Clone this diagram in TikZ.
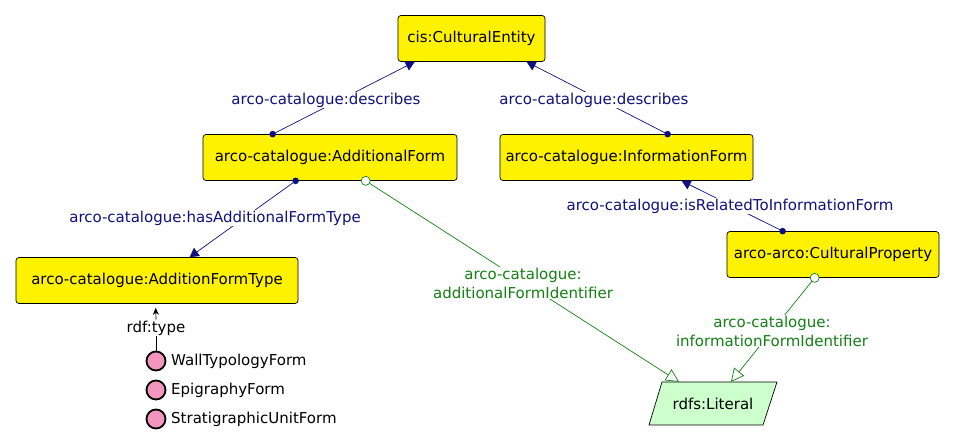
\documentclass[tikz,border=0pt]{standalone}
\usepackage{fontspec}
\setmainfont{DejaVu Sans}
\usetikzlibrary{arrows.meta,calc}
\definecolor{navyc}{RGB}{16,16,128}
\definecolor{greenc}{RGB}{20,128,20}
\definecolor{litfill}{RGB}{204,255,204}
\definecolor{pinkc}{RGB}{242,150,192}
\begin{document}
\begin{tikzpicture}[x=1pt,y=-1pt,font=\fontsize{15}{18}\selectfont,
  cls/.style={draw=black,fill=yellow,rounded corners=3pt,minimum height=46pt,line width=0.7pt,inner sep=0pt},
  navylab/.style={text=navyc,fill=white,inner sep=1pt},
  greenlab/.style={text=greenc,fill=white,inner sep=1pt,align=center,font=\fontsize{15}{19}\selectfont},
  navyedge/.style={draw=navyc,line width=0.7pt,-{Triangle[length=9pt,width=10pt]}},
  greenedge/.style={draw=greenc,line width=0.7pt,-{Triangle[open,length=13pt,width=13pt,fill=white]}},
  inst/.style={circle,draw=black,fill=pinkc,line width=1.8pt,minimum size=19pt,inner sep=0pt},
  instlab/.style={anchor=west,inner sep=0pt}
]
\useasboundingbox (0,0) rectangle (954,446);

% class boxes
\node[cls,minimum width=147pt] (ce) at (471.5,38.5) {cis:CulturalEntity};
\node[cls,minimum width=254pt] (af) at (330,157.5) {arco-catalogue:AdditionalForm};
\node[cls,minimum width=253pt] (if) at (626.5,157.5) {arco-catalogue:InformationForm};
\node[cls,minimum width=282pt] (aft) at (157,280.5) {arco-catalogue:AdditionFormType};
\node[cls,minimum width=212pt] (cp) at (833,254.5) {arco-arco:CulturalProperty};

% literal
\fill[litfill] (662,382) -- (777,382) -- (763,425) -- (649,425) -- cycle;
\draw[line width=0.7pt] (662,382) -- (777,382) -- (763,425) -- (649,425) -- cycle;
\node[minimum width=115pt,minimum height=43pt,inner sep=0pt] (lit) at (713,403.5) {rdfs:Literal};

% endpoints
\coordinate (e1s) at ($(af.north west)+(70,0)$);
\coordinate (e1e) at ($(ce.south west)+(17,0)$);
\coordinate (e2s) at ($(if.north west)+(168,0)$);
\coordinate (e2e) at ($(ce.south west)+(129,0)$);
\coordinate (e3s) at ($(af.south west)+(93,0)$);
\coordinate (e3e) at ($(aft.north west)+(174,0)$);
\coordinate (e4s) at ($(cp.north west)+(56,0)$);
\coordinate (e4e) at ($(if.south west)+(182,0)$);
\coordinate (e5s) at ($(af.south west)+(163,0)$);
\coordinate (e5e) at ($(lit.north)+(-34,0)$);
\coordinate (e6s) at ($(cp.south west)+(88,0)$);
\coordinate (e6e) at ($(lit.north)+(18,0)$);

% navy object properties
\draw[navyedge] (e1s) -- (e1e);
\draw[navyedge] (e2s) -- (e2e);
\draw[navyedge] (e3s) -- (e3e);
\draw[navyedge] (e4s) -- (e4e);
\foreach \p in {e1s,e2s,e3s,e4s} \fill[navyc] (\p) circle (3.3pt);

% green data properties
\draw[greenedge] (e5s) -- (e5e);
\draw[greenedge] (e6s) -- (e6e);
\foreach \p in {e5s,e6s} \draw[greenc,fill=white,line width=0.7pt] (\p) circle (4.5pt);

% labels
\node[navylab] (l1) at (326,100) {arco-catalogue:describes};
\node[navylab] (l2) at (594,100) {arco-catalogue:describes};
\node[navylab] (l3) at (215,218) {arco-catalogue:hasAdditionalFormType};
\node[navylab] (l4) at (730,206) {arco-catalogue:isRelatedToInformationForm};
\node[greenlab] (l5) at (523,283) {arco-catalogue:\\additionalFormIdentifier};
\node[greenlab] (l6) at (772,331) {arco-catalogue:\\informationFormIdentifier};

% individuals
\node[inner sep=1pt] (rt) at (156,328) {rdf:type};
\draw[line width=0.7pt,-{Stealth[length=7pt,width=6pt]}] (rt.north) -- ($(aft.south west)+(140,4)$);
\node[inst] (i1) at (156,361) {};
\node[inst] (i2) at (156,390) {};
\node[inst] (i3) at (156,419) {};
\draw[line width=0.9pt] (rt.south) -- (i1.north);
\node[instlab] (t1) at (171,361) {WallTypologyForm};
\node[instlab] (t2) at (171,390) {EpigraphyForm};
\node[instlab] (t3) at (171,419) {StratigraphicUnitForm};
\end{tikzpicture}
\end{document}
